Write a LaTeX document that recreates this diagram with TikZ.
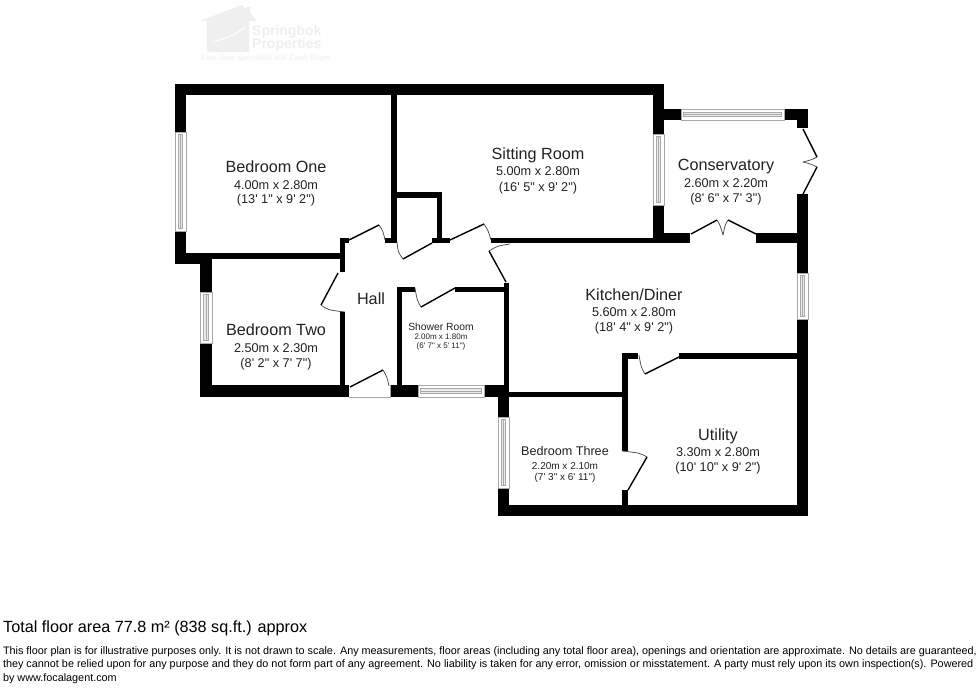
\documentclass[tikz,border=0pt]{standalone}
\usepackage{fontspec}
\setmainfont{Liberation Sans}[Ligatures=TeXOff]
\definecolor{ink}{HTML}{222222}
\definecolor{wm}{HTML}{EFEFEF}
\definecolor{wingrey}{HTML}{A8A8A8}
\tikzset{
  wallfill/.style={fill=black},
  leaf/.style={draw=black,line width=1.4pt},
  swing/.style={draw=black!75,line width=0.7pt},
  winframe/.style={draw=wingrey,line width=0.8pt,fill=white},
  winpane/.style={draw=wingrey,line width=0.7pt,fill=black!8},
  txt/.style={anchor=base,inner sep=0pt,outer sep=0pt,text=ink},
  rbig/.style={txt,font=\fontsize{16.2}{18}\selectfont},
  rdim/.style={txt,font=\fontsize{12.7}{14}\selectfont},
  smallt/.style={txt,font=\fontsize{12.6}{14}\selectfont},
  smalld/.style={txt,font=\fontsize{10}{12}\selectfont},
  tinyt/.style={txt,font=\fontsize{10.3}{12}\selectfont},
  tinyd/.style={txt,font=\fontsize{8}{10}\selectfont},
  foot/.style={anchor=base west,inner sep=0pt,outer sep=0pt,text=black,font=\fontsize{10.83}{12}\selectfont},
}
\newcommand{\wallrect}[4]{\fill[wallfill] (#1,#2) rectangle (#3,#4);}
\newcommand{\winV}[4]{%
  \draw[winframe] (#1,#2) rectangle (#3,#4);
  \draw[winpane] ({#1+3.4},{#2+2.5}) rectangle ({#3-3.4},{#4-2.5});
  \draw[wingrey,line width=0.4pt] ({(#1+#3)/2},{#2+2.5}) -- ({(#1+#3)/2},{#4-2.5});}
\newcommand{\winH}[4]{%
  \draw[winframe] (#1,#2) rectangle (#3,#4);
  \draw[winpane] ({#1+2.5},{#2+3.4}) rectangle ({#3-2.5},{#4-3.4});
  \draw[wingrey,line width=0.4pt] ({#1+2.5},{(#2+#4)/2}) -- ({#3-2.5},{(#2+#4)/2});}
\begin{document}
\begin{tikzpicture}[x=1pt,y=-1pt]
\useasboundingbox (0,0) rectangle (976,688);
\fill[white] (0,0) rectangle (976,688);

% watermark
\fill[wm] (200,21) -- (242,5) -- (246,10) -- (246,7) -- (250,7) -- (250,13) -- (257,21) -- (249,21) -- (249,52) -- (207,52) -- (207,21) -- cycle;
\draw[white,line width=1pt] (213,42) .. controls (225,38) and (235,36) .. (245,27);
\node[anchor=base west,inner sep=0pt,text=wm,font=\bfseries\fontsize{14}{16}\selectfont] (wm1) at (252,35) {Springbok};
\node[anchor=base west,inner sep=0pt,text=wm,font=\bfseries\fontsize{14}{16}\selectfont] (wm2) at (252,48) {Properties};
\node[anchor=base,inner sep=0pt,text=wm,font=\fontsize{8}{10}\selectfont] (wm3) at (266,60) {Fast Sale Specialist and Cash Buyer};

% outer and inner walls
\wallrect{175}{84}{664}{95}
\wallrect{175}{84}{186}{132}
\wallrect{175}{231}{186}{264}
\wallrect{175}{253}{212}{264}
\wallrect{186}{253}{345}{259}
\wallrect{200}{264}{212}{292}
\wallrect{200}{343}{212}{397}
\wallrect{200}{385}{349}{397}
\wallrect{340}{238}{345}{272}
\wallrect{340}{238}{349}{243}
\wallrect{340}{312}{345}{385}
\wallrect{391}{95}{397}{243}
\wallrect{385}{238}{397}{243}
\wallrect{397}{192}{442}{198}
\wallrect{437}{192}{442}{243}
\wallrect{432}{238}{450}{243}
\wallrect{491}{238}{690}{243}
\wallrect{653}{233}{690}{243}
\wallrect{756}{233}{808}{243}
\wallrect{653}{84}{664}{134}
\wallrect{653}{205}{664}{243}
\wallrect{664}{109}{681}{120}
\wallrect{784}{109}{808}{120}
\wallrect{797}{109}{808}{128}
\wallrect{797}{194}{808}{273}
\wallrect{797}{319}{808}{516}
\wallrect{504}{283}{509}{397}
\wallrect{397}{287}{415}{292}
\wallrect{455}{287}{509}{292}
\wallrect{397}{287}{402}{397}
\wallrect{390}{385}{418}{397}
\wallrect{484}{385}{509}{397}
\wallrect{509}{392}{628}{397}
\wallrect{498}{385}{509}{417}
\wallrect{498}{488}{509}{516}
\wallrect{498}{505}{808}{516}
\wallrect{622}{353}{628}{451}
\wallrect{622}{490}{628}{505}
\wallrect{622}{353}{638}{359}
\wallrect{679}{353}{797}{359}

% windows
\winV{175}{132}{186}{231}
\winV{200}{292}{212}{343}
\winV{653}{134}{664}{205}
\winV{797}{273}{808}{319}
\winV{498}{417}{509}{488}
\winH{681}{109}{784}{120}
\winH{418}{385}{484}{397}

% door threshold
\draw[wingrey,line width=0.6pt] (349,397) -- (390,397) -- (390,385);

% doors: leaf, then swing
\draw[leaf] (349,240) -- (379,225);
\draw[swing] (379,225) .. controls (383,231) .. (385,240);
\draw[leaf] (432,243) -- (403,259);
\draw[swing] (403,259) .. controls (398,252) .. (397,242);
\draw[leaf] (450,240) -- (484,224);
\draw[swing] (484,224) .. controls (488,230) .. (491,240);
\draw[leaf] (506,282) -- (489,251);
\draw[swing] (489,251) .. controls (497,246) .. (510,244);
\draw[leaf] (338,273) -- (321,305);
\draw[swing] (321,305) .. controls (328,310) .. (345,312);
\draw[leaf] (350,387) -- (383,370);
\draw[swing] (383,370) .. controls (387,377) .. (389,386);
\draw[leaf] (455,288) -- (421,307);
\draw[swing] (421,307) .. controls (417,300) .. (415,288);
\draw[leaf] (691,234) -- (717,220);
\draw[swing] (717,220) .. controls (720,225) .. (723,235);
\draw[leaf] (756,234) -- (728,220);
\draw[swing] (728,220) .. controls (725,225) .. (723,235);
\draw[leaf] (803,129) -- (817,157);
\draw[swing] (817,157) .. controls (811,160) .. (803,162);
\draw[leaf] (803,194) -- (817,167);
\draw[swing] (817,167) .. controls (811,164) .. (803,162);
\draw[leaf] (679,357) -- (645,374);
\draw[swing] (645,374) .. controls (641,367) .. (639,355);
\draw[leaf] (628,490) -- (647,457);
\draw[swing] (647,457) .. controls (640,453) .. (622,451);

% room labels
\node[rbig] (r1a) at (276,172) {Bedroom One};
\node[rdim] (r1b) at (276,189) {4.00m x 2.80m};
\node[rdim] (r1c) at (276,203) {(13' 1" x 9' 2")};
\node[rbig] (r2a) at (276,335) {Bedroom Two};
\node[rdim] (r2b) at (276,352) {2.50m x 2.30m};
\node[rdim] (r2c) at (276,367) {(8' 2" x 7' 7")};
\node[rbig] (r3a) at (371,304) {Hall};
\node[tinyt] (r4a) at (441,330) {Shower Room};
\node[tinyd] (r4b) at (441,339) {2.00m x 1.80m};
\node[tinyd] (r4c) at (441,348) {(6' 7" x 5' 11")};
\node[rbig] (r5a) at (538,159) {Sitting Room};
\node[rdim] (r5b) at (538,175) {5.00m x 2.80m};
\node[rdim] (r5c) at (538,191) {(16' 5" x 9' 2")};
\node[rbig] (r6a) at (726,170) {Conservatory};
\node[rdim] (r6b) at (726,187) {2.60m x 2.20m};
\node[rdim] (r6c) at (726,202) {(8' 6" x 7' 3")};
\node[rbig] (r7a) at (634,300) {Kitchen/Diner};
\node[rdim] (r7b) at (634,316) {5.60m x 2.80m};
\node[rdim] (r7c) at (634,331) {(18' 4" x 9' 2")};
\node[rbig] (r8a) at (718,440) {Utility};
\node[rdim] (r8b) at (718,456) {3.30m x 2.80m};
\node[rdim] (r8c) at (718,471) {(10' 10" x 9' 2")};
\node[smallt] (r9a) at (565,455) {Bedroom Three};
\node[smalld] (r9b) at (565,469) {2.20m x 2.10m};
\node[smalld] (r9c) at (565,480) {(7' 3" x 6' 11")};

% footer
\node[anchor=base west,inner sep=0pt,text=black,font=\fontsize{16.2}{18}\selectfont] (total) at (3,632) {Total floor area 77.8 m² (838 sq.ft.) approx};
\node[foot] (f1) at (3,654) {This floor plan is for illustrative purposes only. It is not drawn to scale. Any measurements, floor areas (including any total floor area), openings and orientation are approximate. No details are guaranteed,};
\node[foot] (f2) at (3,667) {they cannot be relied upon for any purpose and they do not form part of any agreement. No liability is taken for any error, omission or misstatement. A party must rely upon its own inspection(s). Powered};
\node[foot] (f3) at (3,681) {by www.focalagent.com};
\end{tikzpicture}
\end{document}
